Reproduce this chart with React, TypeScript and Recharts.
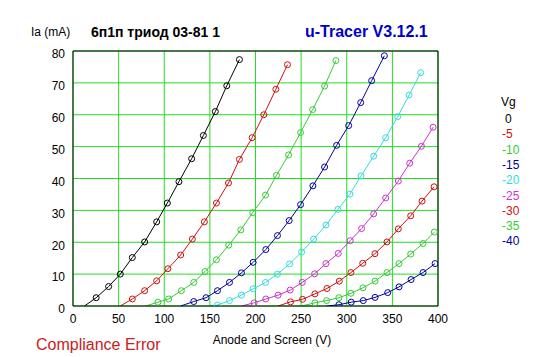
import React from 'react';
import { LineChart, Line, XAxis, YAxis, CartesianGrid, ReferenceLine } from 'recharts';

// anode voltage (V), anode current (mA) for each grid voltage
const vg0 = [[12.6, 0], [25.4, 2.6], [39, 6.1], [51.8, 10], [65, 15.2], [78.5, 20.1], [91.7, 26.4], [103.4, 32.3], [116.1, 39], [130, 46.2], [142.9, 53.5], [156, 61], [168.5, 69.1], [182.4, 77.3]];
const vg5 = [[51.8, 0], [65, 2.2], [78.5, 4.8], [91.7, 7.9], [104, 11.7], [118, 16], [130.8, 21], [144, 26.4], [157.2, 32.3], [170.4, 38.6], [182.4, 46], [196.3, 52.8], [209.1, 60], [222.3, 68], [235.1, 75.7]];
const vg10 = [[79.6, 0], [93.1, 1.2], [104.8, 2.2], [118.8, 4.8], [132.3, 7.4], [144.7, 10.8], [157.2, 14.5], [170.7, 19.1], [183.9, 23.9], [197, 29.3], [211, 34.8], [223, 41], [236.2, 47.4], [249.4, 54.4], [262.6, 61.6], [275.7, 69], [288.1, 77]];
const vg15 = [[118, 0], [132.3, 1.4], [145.8, 2.6], [158.3, 4.8], [171.5, 7.4], [184.6, 10.4], [197.4, 13.7], [211.3, 17.7], [224.1, 22.1], [236.9, 26.8], [249.4, 31.8], [262.9, 37.7], [275.7, 43.6], [288.9, 50.4], [302.1, 56.6], [315.3, 63.8], [327.3, 70.7], [341.2, 78.5]];
const vg20 = [[149.8, 0], [158.3, 0.3], [171.5, 1.7], [184.6, 3.4], [197.4, 5.4], [211, 7.4], [224.1, 10], [237.3, 13.2], [250.5, 16.9], [263.7, 21], [277.2, 25.4], [290.3, 30.3], [303.5, 35.1], [315.6, 40.8], [329.5, 47], [342.7, 52.8], [355.9, 59.4], [368.3, 66.2], [381.1, 73.2]];
const vg25 = [[184.4, 0], [198.5, 1], [211.3, 2.2], [224.8, 3.4], [238, 5], [251.2, 7.4], [264.8, 10.1], [277.2, 13.3], [290.7, 16.5], [303.8, 20.5], [316.3, 24.3], [329.5, 28.9], [342.7, 33.9], [356.5, 39.2], [369, 44.8], [381.8, 50.1], [394.6, 56.1]];
const vg30 = [[224.8, 0], [238.4, 1.3], [251.6, 2.1], [265.1, 3.8], [278.3, 5.5], [291.8, 7.8], [304.6, 10.5], [317.5, 13.4], [330.9, 16.4], [344.1, 20.1], [356.5, 24.2], [370.1, 28.3], [382.5, 32.9], [395.7, 37.4]];
const vg35 = [[250.5, 0], [265.1, 1], [277.9, 1.7], [291.4, 2.6], [304.6, 4], [317.8, 5.7], [331, 7.8], [344.1, 10.5], [357.3, 13.3], [370.1, 16.3], [383.6, 19.6], [396, 23.2]];
const vg40 = [[277.9, 0], [291.4, 0.4], [304.9, 1.2], [318.1, 1.7], [331, 2.7], [344.9, 4.2], [357.3, 6], [370.5, 8.3], [383.6, 10.5], [396.8, 13.3]];

const vgLabels = ['0', '-5', '-10', '-15', '-20', '-25', '-30', '-35', '-40'];
const curves = [vg0, vg5, vg10, vg15, vg20, vg25, vg30, vg35, vg40];
const colors = ['#000000', '#d01010', '#33cc33', '#0000a0', '#33dddd', '#cc33cc', '#d01010', '#33cc33', '#0000a0'];

const xTicks = [0, 50, 100, 150, 200, 250, 300, 350, 400];
const yTicks = [0, 10, 20, 30, 40, 50, 60, 70, 80];

const font = '"Liberation Sans", Arial, sans-serif';

const makeDot = (color: string) => (props: any) => {
  const { cx, cy, payload, index } = props;
  if (payload.ia === 0) return <g key={`d-${index}`} />;
  return <circle key={`d-${index}`} cx={cx} cy={cy} r={3} stroke={color} strokeWidth={1} fill="none" />;
};

const App = () => {
  return (
    <div style={{ position: 'fixed', left: 0, top: 0, width: 547, height: 357, background: '#fff' }}>
      <LineChart width={547} height={357} margin={{ top: 51, right: 109, bottom: 21, left: 13 }}>
        <CartesianGrid stroke="#22dd22" strokeWidth={1} horizontalValues={yTicks} verticalValues={xTicks} />
        <XAxis
          type="number"
          dataKey="va"
          domain={[0, 400]}
          ticks={xTicks}
          height={30}
          tickLine={false}
          axisLine={{ stroke: '#000' }}
          tick={{ fill: '#000', fontSize: 12, fontFamily: font }}
          allowDataOverflow
        />
        <YAxis
          type="number"
          domain={[0, 80]}
          ticks={yTicks}
          width={60}
          tickLine={false}
          axisLine={{ stroke: '#000' }}
          tick={{ fill: '#000', fontSize: 12, fontFamily: font, dy: 3 }}
          allowDataOverflow
        />
        <ReferenceLine y={80} stroke="#000" />
        <ReferenceLine x={400} stroke="#000" />
        {curves.map((c, i) => (
          <Line
            key={vgLabels[i]}
            data={c.map(([va, ia]) => ({ va, ia }))}
            dataKey="ia"
            type="linear"
            stroke={colors[i]}
            strokeWidth={1}
            dot={makeDot(colors[i])}
            activeDot={false}
            isAnimationActive={false}
          />
        ))}
      </LineChart>
      <svg width={547} height={357} style={{ position: 'absolute', left: 0, top: 0, pointerEvents: 'none' }}>
        <text x={31} y={36} fontSize={12} fontFamily={font} fill="#000">Ia (mA)</text>
        <text x={91} y={37} fontSize={14} fontWeight="bold" fontFamily={font} fill="#000">6п1п триод 03-81 1</text>
        <text x={305} y={37} fontSize={16} fontWeight="bold" fontFamily={font} fill="#0000cc">u-Tracer V3.12.1</text>
        <text x={501} y={106} fontSize={12} fontFamily={font} fill="#000">Vg</text>
        {vgLabels.map((l, i) => (
          <text key={l} x={l === '0' ? 505 : 502} y={123 + i * 15.3} fontSize={12} fontFamily={font} fill={colors[i]}>{l}</text>
        ))}
        <text x={272} y={344} fontSize={12} fontFamily={font} fill="#000" textAnchor="middle">Anode and Screen (V)</text>
        <text x={36} y={350} fontSize={16} fontFamily={font} fill="#cc2020">Compliance Error</text>
      </svg>
    </div>
  );
};

export default App;
